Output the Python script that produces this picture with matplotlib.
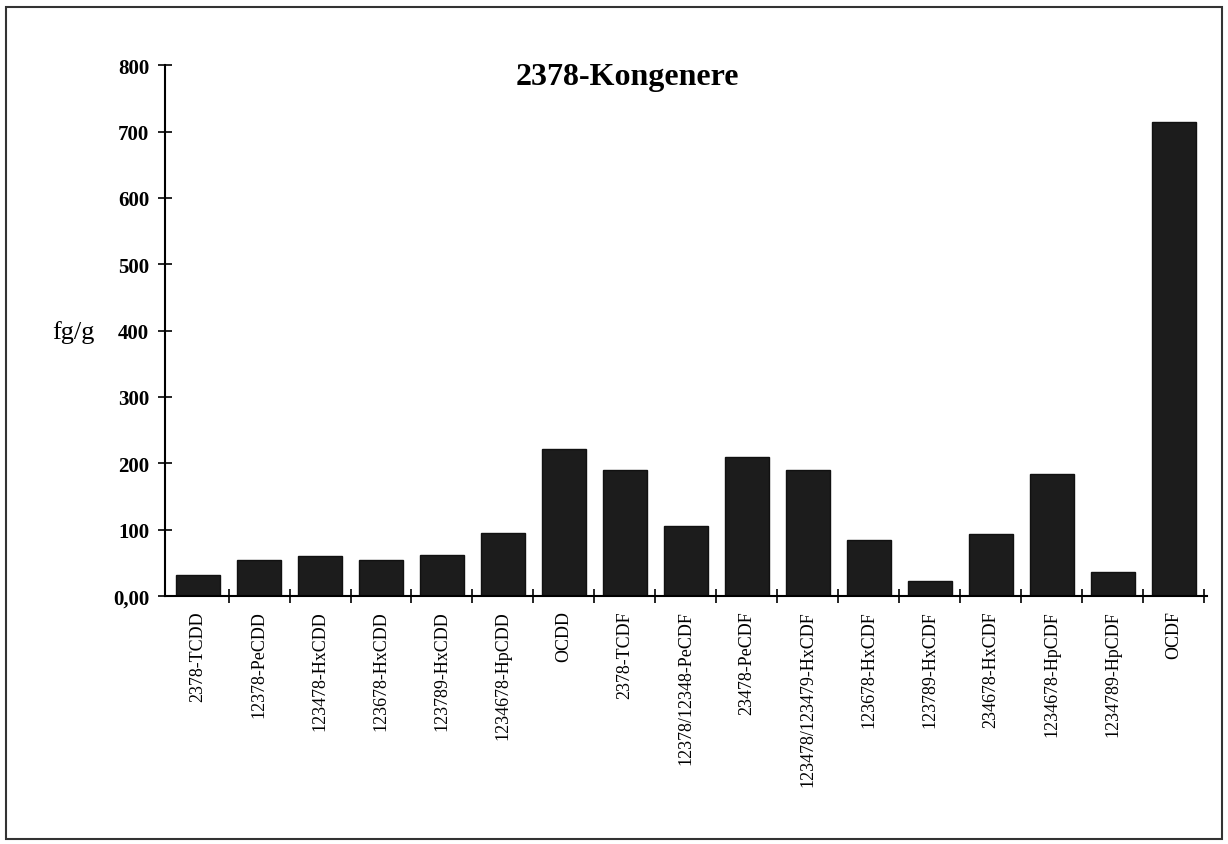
import matplotlib
matplotlib.use("Agg")
import matplotlib.pyplot as plt
import numpy as np
from matplotlib.patches import Rectangle

congeners = ["2378-TCDD", "12378-PeCDD", "123478-HxCDD", "123678-HxCDD",
             "123789-HxCDD", "1234678-HpCDD", "OCDD", "2378-TCDF",
             "12378/12348-PeCDF", "23478-PeCDF", "123478/123479-HxCDF",
             "123678-HxCDF", "123789-HxCDF", "234678-HxCDF", "1234678-HpCDF",
             "1234789-HpCDF", "OCDF"]
values = [31, 55, 61, 54, 62, 95, 221, 190, 105, 210, 190, 84, 22, 94, 184, 36, 715]
yticks = [0, 100, 200, 300, 400, 500, 600, 700, 800]
ytick_labels = ["0,00", "100", "200", "300", "400", "500", "600", "700", "800"]

plt.rcParams["font.family"] = ["Liberation Serif", "DejaVu Serif"]

fig = plt.figure(figsize=(12.28, 8.45), dpi=100)
ax = fig.add_axes([0.134, 0.2935, 0.849, 0.628])

x = np.arange(len(congeners))
ax.bar(x, values, width=0.72, color="#1c1c1c", edgecolor="#111111")

ax.set_xlim(-0.55, len(congeners) - 0.45)
ax.set_ylim(0, 800)
ax.set_yticks(yticks)
ax.set_yticklabels(ytick_labels, fontsize=15, fontweight="bold")
ax.tick_params(axis="y", direction="inout", length=10, width=1.2, pad=6)

ax.set_xticks(x)
ax.set_xticklabels(congeners, rotation=90, fontsize=13)
ax.tick_params(axis="x", which="major", length=0, pad=10)
ax.set_xticks(np.arange(len(congeners)) + 0.5, minor=True)
ax.tick_params(axis="x", which="minor", direction="inout", length=10, width=1.2)

for side in ["top", "right"]:
    ax.spines[side].set_visible(False)
ax.spines["left"].set_linewidth(1.5)
ax.spines["bottom"].set_linewidth(1.5)

fig.text(0.511, 0.908, "2378-Kongenere", fontsize=23, fontweight="bold",
         ha="center", va="center")
fig.text(0.06, 0.606, "fg/g", fontsize=19, va="center", ha="center")

fig.patches.append(Rectangle((0.005, 0.006), 0.99, 0.984, transform=fig.transFigure,
                             fill=False, edgecolor="#333333", linewidth=1.5))

fig.savefig("out.png", dpi=100)
